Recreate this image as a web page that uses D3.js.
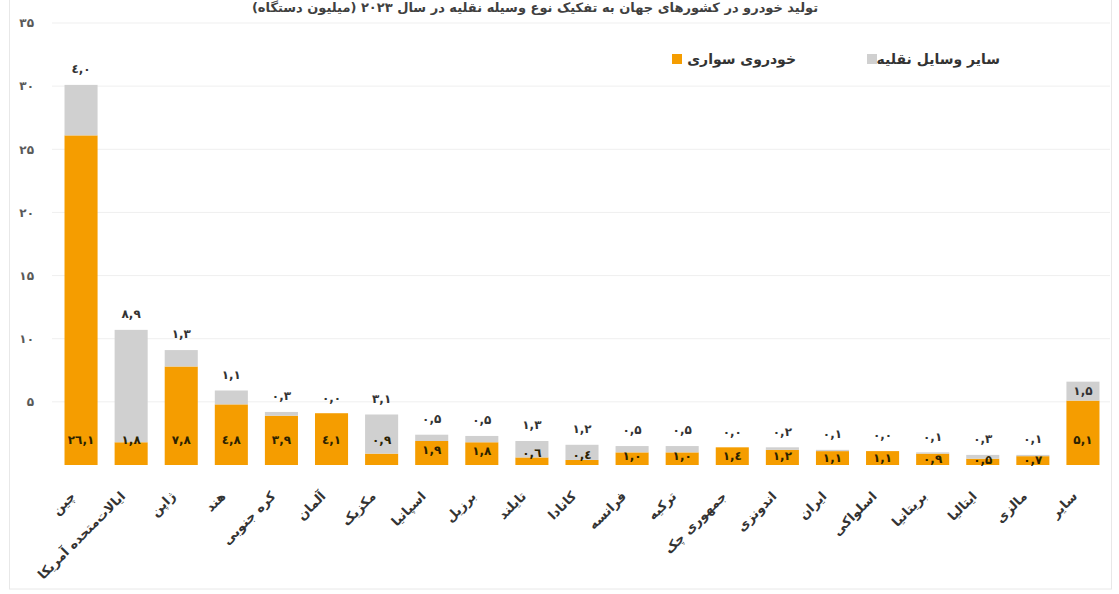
<!DOCTYPE html>
<html><head><meta charset="utf-8">
<script src="https://cdn.jsdelivr.net/npm/d3@7"></script>
<style>
html,body{margin:0;padding:0;background:#fff;}
svg{display:block;}
text{font-family:"DejaVu Sans",sans-serif;}
</style></head>
<body>
<svg id="chart" width="1119" height="594"></svg>
<script>
const categories = ["چین","ایالات‌متحده آمریکا","ژاپن","هند","کره جنوبی","آلمان","مکزیک","اسپانیا","برزیل","تایلند","کانادا","فرانسه","ترکیه","جمهوری چک","اندونزی","ایران","اسلواکی","بریتانیا","ایتالیا","مالزی","سایر"];
const passengerCars = [26.1,1.8,7.8,4.8,3.9,4.1,0.9,1.9,1.8,0.6,0.4,1.0,1.0,1.4,1.2,1.1,1.1,0.9,0.5,0.7,5.1];
const otherVehicles = [4.0,8.9,1.3,1.1,0.3,0.0,3.1,0.5,0.5,1.3,1.2,0.5,0.5,0.0,0.2,0.1,0.0,0.1,0.3,0.1,1.5];
const seriesNames = ["خودروی سواری","سایر وسایل نقلیه"];
const yTicks = [0,5,10,15,20,25,30,35];
const titleText = "تولید خودرو در کشورهای جهان به تفکیک نوع وسیله نقلیه در سال ۲۰۲۳ (میلیون دستگاه)";

const ORANGE = "#F59D00", GRAY = "#D0D0D0";
const digits = {"0":"۰","1":"۱","2":"۲","3":"۳","4":"٤","5":"۵","6":"٦","7":"۷","8":"۸","9":"۹",".":","};
const fa = s => String(s).replace(/[0-9.]/g, c => digits[c]);
const fmt1 = v => fa(v.toFixed(1));

const svg = d3.select("#chart");
const y = d3.scaleLinear().domain([0,35]).range([465,23]);
const x = d3.scaleBand().domain(categories).range([56,1108]).paddingInner(0.34).paddingOuter(0.17);

// border
svg.append("rect").attr("x",9.5).attr("y",-2).attr("width",1102).attr("height",591)
  .attr("fill","none").attr("stroke","#e8e8e8");

// title
svg.append("text").attr("x",535).attr("y",12).attr("text-anchor","middle")
  .attr("font-size",13).attr("font-weight","bold").attr("fill","#404040").text(titleText);

// gridlines
svg.append("g").selectAll("line").data(yTicks.filter(d=>d>0)).join("line")
  .attr("x1",52).attr("x2",1110).attr("y1",d=>y(d)).attr("y2",d=>y(d))
  .attr("stroke","#efefef").attr("stroke-width",1);

// y axis labels
const yAxis = d3.axisLeft(y).tickValues(yTicks.filter(d=>d>0)).tickSize(0).tickPadding(0).tickFormat(d=>fa(d));
const ga = svg.append("g").attr("transform","translate(34,0)").call(yAxis);
ga.select(".domain").remove();
ga.selectAll("text").attr("font-size",12).attr("fill","#595959").attr("font-family","DejaVu Sans, sans-serif").attr("font-weight","bold");

// stacked data
const rows = categories.map((c,i)=>({cat:c, car:passengerCars[i], other:otherVehicles[i], i}));
const stack = d3.stack().keys(["car","other"])(rows);
const colors = [ORANGE, GRAY];

svg.append("g").selectAll("g").data(stack).join("g").attr("fill",(d,i)=>colors[i])
  .selectAll("rect").data(d=>d).join("rect")
  .attr("x",d=>x(d.data.cat)).attr("width",x.bandwidth())
  .attr("y",d=>y(d[1])).attr("height",d=>Math.max(0,y(d[0])-y(d[1])));

// passenger car labels (inside base)
svg.append("g").selectAll("text").data(rows).join("text")
  .attr("x",d=>x(d.cat)+x.bandwidth()/2)
  .attr("y",d=>{const h = y(0)-y(d.car+d.other); return y(0) - Math.min(25, h/2);})
  .attr("dy","0.36em").attr("text-anchor","middle")
  .attr("font-size",12).attr("font-weight","bold").attr("fill","#2b2200")
  .text(d=>fmt1(d.car));

// other vehicle labels (above bar; last one inside its segment)
const last = categories.length-1;
svg.append("g").selectAll("text").data(rows).join("text")
  .attr("x",d=>x(d.cat)+x.bandwidth()/2)
  .attr("y",d=> d.i===last ? (y(d.car+d.other)+y(d.car))/2 : y(d.car+d.other)-16)
  .attr("dy","0.36em").attr("text-anchor","middle")
  .attr("font-size",12).attr("font-weight","bold").attr("fill","#333")
  .text(d=>fmt1(d.other));

// x labels rotated
svg.append("g").selectAll("text").data(categories).join("text")
  .attr("transform",d=>`translate(${x(d)+x.bandwidth()/2-5},${y(0)+32}) rotate(-45)`)
  .attr("text-anchor","end").attr("font-size",13).attr("font-weight","bold").attr("fill","#333")
  .text(d=>d);

// legend
const legend = [
  {name:seriesNames[0], color:ORANGE, sx:672, tx:796},
  {name:seriesNames[1], color:GRAY, sx:867, tx:1000}
];
const lg = svg.append("g");
lg.selectAll("rect").data(legend).join("rect")
  .attr("x",d=>d.sx).attr("y",54).attr("width",10).attr("height",10).attr("fill",d=>d.color);
lg.selectAll("text").data(legend).join("text")
  .attr("x",d=>d.tx).attr("y",59).attr("dy","0.36em").attr("text-anchor","end")
  .attr("font-size",14).attr("font-weight","bold").attr("fill","#333").text(d=>d.name);
</script>
</body></html>
